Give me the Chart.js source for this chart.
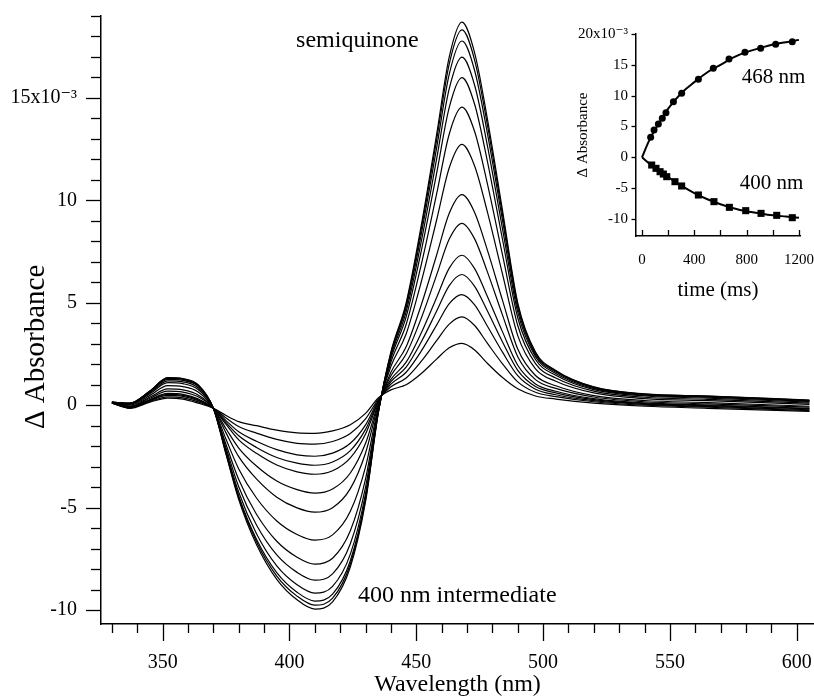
<!DOCTYPE html>
<html>
<head>
<meta charset="utf-8">
<script src="https://cdn.jsdelivr.net/npm/chart.js@4.4.1/dist/chart.umd.min.js"></script>
<style>
  html, body { margin: 0; padding: 0; background: #fff; }
  #wrap { position: relative; width: 814px; height: 696px; }
  #main { position: absolute; left: 0; top: 0; }
  #inset { position: absolute; left: 560px; top: 0; }
</style>
</head>
<body>
<div id="wrap">
  <canvas id="main" width="814" height="696"></canvas>
  <canvas id="inset" width="254" height="310"></canvas>
</div>
<script>
/* Espectros de diferença (ΔA ×10^-3), um por tempo. */
const wavelengths = [330, 337, 345, 352, 358, 364, 370, 375, 380, 387, 395, 403, 410, 417, 424, 430,
  435, 440, 446, 452, 458, 463, 468, 473, 478, 484, 490, 497, 505, 520, 540, 565, 605];

const spectrum01 = [0.10, -0.15, 0.15, 0.35, 0.30, 0.10, -0.15, -0.50, -0.80, -1.00, -1.22, -1.35, -1.37, -1.25, -0.95, -0.40, 0.35, 0.75, 1.00, 1.55, 2.25, 2.80, 3.02, 2.70, 2.05, 1.35, 0.80, 0.45, 0.30, 0.10, -0.05, -0.15, -0.30];
const spectrum02 = [0.10, -0.13, 0.18, 0.41, 0.36, 0.16, -0.15, -0.62, -1.04, -1.36, -1.67, -1.86, -1.90, -1.77, -1.38, -0.67, 0.29, 0.90, 1.33, 2.15, 3.15, 3.96, 4.31, 3.89, 3.03, 2.02, 1.14, 0.63, 0.42, 0.17, 0.00, -0.10, -0.26];
const spectrum03 = [0.11, -0.12, 0.22, 0.48, 0.43, 0.22, -0.15, -0.75, -1.30, -1.76, -2.17, -2.42, -2.49, -2.34, -1.86, -0.96, 0.24, 1.03, 1.61, 2.65, 3.91, 4.96, 5.40, 4.90, 3.87, 2.59, 1.44, 0.78, 0.51, 0.22, 0.04, -0.06, -0.22];
const spectrum04 = [0.11, -0.10, 0.25, 0.53, 0.48, 0.26, -0.15, -0.85, -1.49, -2.06, -2.55, -2.83, -2.93, -2.77, -2.22, -1.18, 0.19, 1.15, 1.86, 3.10, 4.59, 5.84, 6.38, 5.80, 4.61, 3.09, 1.70, 0.91, 0.60, 0.27, 0.08, -0.02, -0.18];
const spectrum05 = [0.11, -0.09, 0.28, 0.58, 0.53, 0.31, -0.15, -0.94, -1.69, -2.35, -2.92, -3.25, -3.37, -3.20, -2.57, -1.40, 0.14, 1.26, 2.10, 3.54, 5.25, 6.69, 7.32, 6.67, 5.32, 3.58, 1.95, 1.04, 0.68, 0.32, 0.11, 0.01, -0.15];
const spectrum06 = [0.12, -0.07, 0.34, 0.69, 0.64, 0.41, -0.15, -1.15, -2.09, -2.97, -3.70, -4.12, -4.29, -4.09, -3.31, -1.86, 0.07, 1.44, 2.50, 4.26, 6.35, 8.11, 8.88, 8.12, 6.52, 4.40, 2.37, 1.25, 0.82, 0.40, 0.17, 0.07, -0.09];
const spectrum07 = [0.12, -0.04, 0.40, 0.80, 0.75, 0.50, -0.15, -1.35, -2.51, -3.60, -4.49, -5.01, -5.22, -5.00, -4.07, -2.33, 0.00, 1.61, 2.85, 4.91, 7.32, 9.37, 10.28, 9.41, 7.58, 5.12, 2.74, 1.45, 0.95, 0.47, 0.23, 0.13, -0.05];
const spectrum08 = [0.13, 0.00, 0.48, 0.96, 0.91, 0.65, -0.15, -1.66, -3.11, -4.53, -5.65, -6.31, -6.59, -6.33, -5.18, -3.01, -0.11, 1.90, 3.48, 6.04, 9.03, 11.59, 12.73, 11.68, 9.45, 6.40, 3.40, 1.78, 1.17, 0.60, 0.32, 0.22, 0.04];
const spectrum09 = [0.14, 0.04, 0.56, 1.10, 1.05, 0.77, -0.15, -1.92, -3.63, -5.32, -6.64, -7.42, -7.76, -7.47, -6.13, -3.60, -0.20, 2.11, 3.94, 6.88, 10.30, 13.24, 14.55, 13.36, 10.83, 7.34, 3.89, 2.03, 1.33, 0.69, 0.39, 0.29, 0.10];
const spectrum10 = [0.14, 0.06, 0.61, 1.19, 1.14, 0.85, -0.15, -2.09, -3.98, -5.85, -7.31, -8.16, -8.54, -8.23, -6.76, -4.00, -0.27, 2.28, 4.31, 7.55, 11.31, 14.54, 15.99, 14.69, 11.93, 8.09, 4.27, 2.23, 1.46, 0.76, 0.45, 0.35, 0.15];
const spectrum11 = [0.15, 0.08, 0.65, 1.26, 1.21, 0.92, -0.15, -2.23, -4.25, -6.27, -7.84, -8.76, -9.17, -8.84, -7.27, -4.31, -0.32, 2.40, 4.56, 8.01, 12.01, 15.45, 16.99, 15.62, 12.70, 8.61, 4.54, 2.37, 1.55, 0.81, 0.49, 0.39, 0.19];
const spectrum12 = [0.15, 0.09, 0.68, 1.31, 1.26, 0.96, -0.15, -2.31, -4.43, -6.54, -8.17, -9.13, -9.56, -9.22, -7.59, -4.51, -0.36, 2.49, 4.76, 8.37, 12.55, 16.16, 17.78, 16.34, 13.30, 9.02, 4.75, 2.47, 1.62, 0.85, 0.52, 0.42, 0.22];
const spectrum13 = [0.15, 0.10, 0.69, 1.33, 1.28, 0.98, -0.15, -2.36, -4.52, -6.67, -8.34, -9.32, -9.76, -9.42, -7.75, -4.61, -0.38, 2.56, 4.90, 8.63, 12.94, 16.66, 18.32, 16.85, 13.71, 9.30, 4.90, 2.55, 1.67, 0.88, 0.54, 0.44, 0.24];
const spectrum14 = [0.15, 0.10, 0.70, 1.35, 1.30, 1.00, -0.15, -2.40, -4.60, -6.80, -8.50, -9.50, -9.95, -9.60, -7.90, -4.70, -0.40, 2.60, 5.00, 8.80, 13.20, 17.00, 18.70, 17.20, 14.00, 9.50, 5.00, 2.60, 1.70, 0.90, 0.55, 0.45, 0.25];

const spectra = [spectrum01, spectrum02, spectrum03, spectrum04, spectrum05, spectrum06, spectrum07,
  spectrum08, spectrum09, spectrum10, spectrum11, spectrum12, spectrum13, spectrum14];

/* Inset: cinética a 468 nm e 400 nm (ms, ΔA ×10^-3) e as curvas ajustadas. */
const time468 = [66, 92, 125, 155, 183, 240, 303, 431, 545, 665, 787, 907, 1022, 1149];
const abs468  = [3.24, 4.43, 5.40, 6.32, 7.23, 9.02, 10.38, 12.65, 14.43, 15.94, 17.03, 17.67, 18.32, 18.75];
const time400 = [74, 107, 138, 163, 189, 252, 303, 431, 550, 668, 793, 910, 1030, 1149];
const abs400  = [-1.25, -1.79, -2.33, -2.71, -3.14, -3.95, -4.65, -6.11, -7.19, -8.11, -8.65, -9.09, -9.41, -9.79];
const fitTime = [0, 50, 100, 150, 200, 300, 400, 500, 600, 700, 800, 900, 1000, 1100, 1200];
const fit468  = [0, 2.5, 4.5, 6.2, 7.9, 10.4, 12.2, 13.8, 15.0, 16.2, 17.1, 17.7, 18.3, 18.65, 19.05];
const fit400  = [0, -0.9, -1.7, -2.5, -3.2, -4.6, -5.8, -6.8, -7.6, -8.25, -8.75, -9.1, -9.4, -9.6, -9.8];

const SERIF = '"Liberation Serif", "Times New Roman", "DejaVu Serif", serif';
Chart.defaults.font.family = SERIF;
Chart.defaults.color = '#000';

const pts = (xs, ys) => xs.map((x, i) => ({ x, y: ys[i] }));

/* Tamanho fixo dos eixos, sem a folga que o Chart.js reserva para rótulos nas pontas. */
const fixX = h => s => { s.height = h; s.paddingLeft = 0; s.paddingRight = 0; };
const fixY = w => s => { s.width = w; s.paddingTop = 0; s.paddingBottom = 0; };

/* Marcas de escala desenhadas à mão: maiores/menores, para fora ou para dentro. */
const tickMarks = {
  id: 'tickMarks',
  afterDraw(chart, args, opts) {
    const { ctx, chartArea } = chart;
    ctx.save();
    ctx.strokeStyle = '#000';
    ctx.lineWidth = opts.width || 1.3;
    (opts.axes || []).forEach(a => {
      const scale = chart.scales[a.id];
      scale.ticks.forEach(t => {
        const major = Math.abs(t.value % a.major) < 1e-6;
        const len = major ? a.majorLen : a.minorLen;
        const p = Math.round(scale.getPixelForValue(t.value)) + 0.5;
        ctx.beginPath();
        if (scale.isHorizontal()) {
          const y0 = chartArea.bottom;
          ctx.moveTo(p, y0);
          ctx.lineTo(p, y0 + a.dir * len);
        } else {
          const x0 = chartArea.left;
          ctx.moveTo(x0, p);
          ctx.lineTo(x0 - a.dir * len, p);
        }
        ctx.stroke();
      });
    });
    ctx.restore();
  },
};

/* Rótulos de texto: anotações em coordenadas de dados e título vertical do eixo Y. */
const notes = {
  id: 'notes',
  afterDraw(chart, args, opts) {
    const { ctx, scales, chartArea } = chart;
    ctx.save();
    ctx.fillStyle = '#000';
    ctx.textAlign = 'left';
    ctx.textBaseline = 'middle';
    ctx.font = opts.font;
    (opts.items || []).forEach(n => {
      ctx.fillText(n.text, scales.x.getPixelForValue(n.x), scales.y.getPixelForValue(n.y));
    });
    const t = opts.yTitle;
    if (t) {
      ctx.font = t.font;
      ctx.textAlign = 'center';
      ctx.translate(chartArea.left - t.offset, scales.y.getPixelForValue(t.at));
      ctx.rotate(-Math.PI / 2);
      ctx.fillText(t.text, 0, 0);
    }
    ctx.restore();
  },
};

new Chart(document.getElementById('main'), {
  type: 'line',
  plugins: [tickMarks, notes],
  data: {
    datasets: spectra.map(s => ({
      data: pts(wavelengths, s),
      borderColor: '#000',
      borderWidth: 1.2,
      pointRadius: 0,
      fill: false,
      cubicInterpolationMode: 'monotone',
    })),
  },
  options: {
    responsive: false,
    animation: false,
    layout: { padding: { top: 16, right: 0, left: 0, bottom: 0 } },
    scales: {
      x: {
        type: 'linear',
        min: 325.7, max: 606.8,
        afterFit: fixX(72),
        grid: { display: false, drawTicks: false },
        border: { color: '#000', width: 1.5 },
        ticks: {
          stepSize: 10, includeBounds: false, autoSkip: false, maxRotation: 0,
          padding: 27, color: '#000', font: { size: 20 },
          callback: v => (v % 50 === 0 ? String(v) : ''),
        },
        title: { display: true, text: 'Wavelength (nm)', color: '#000', font: { size: 24, lineHeight: 0.9 }, padding: 0 },
      },
      y: {
        min: -10.68, max: 19.0,
        afterFit: fixY(101),
        grid: { display: false, drawTicks: false },
        border: { color: '#000', width: 1.5 },
        ticks: {
          stepSize: 1, includeBounds: false, autoSkip: false,
          padding: 24, color: '#000', font: { size: 20 },
          callback: v => (v === 15 ? '15x10\u207B\u00B3' : (v % 5 === 0 ? String(v) : '')),
        },
      },
    },
    plugins: {
      legend: { display: false },
      tooltip: { enabled: false },
      tickMarks: {
        width: 1.3,
        axes: [
          { id: 'x', major: 50, majorLen: 17, minorLen: 9, dir: 1 },
          { id: 'y', major: 5, majorLen: 15, minorLen: 10, dir: 1 },
        ],
      },
      notes: {
        font: '24px ' + SERIF,
        items: [
          { text: 'semiquinone', x: 402.6, y: 17.8 },
          { text: '400 nm intermediate', x: 427.0, y: -9.32 },
        ],
        yTitle: { text: '\u0394 Absorbance', font: '29px ' + SERIF, offset: 65, at: 2.85 },
      },
    },
  },
});

new Chart(document.getElementById('inset'), {
  type: 'line',
  plugins: [tickMarks, notes],
  data: {
    datasets: [
      { data: pts(fitTime, fit468), borderColor: '#000', borderWidth: 2, pointRadius: 0, cubicInterpolationMode: 'monotone' },
      { data: pts(fitTime, fit400), borderColor: '#000', borderWidth: 2, pointRadius: 0, cubicInterpolationMode: 'monotone' },
      { data: pts(time468, abs468), showLine: false, pointStyle: 'circle', pointRadius: 3.5, backgroundColor: '#000', borderWidth: 0 },
      { data: pts(time400, abs400), showLine: false, pointStyle: 'rect', pointRadius: 5, backgroundColor: '#000', borderWidth: 0 },
    ],
  },
  options: {
    responsive: false,
    animation: false,
    layout: { padding: { top: 34, right: 14, left: 0, bottom: 0 } },
    scales: {
      x: {
        type: 'linear',
        min: -46, max: 1208,
        afterFit: fixX(74),
        grid: { display: false, drawTicks: false },
        border: { color: '#000', width: 1.5 },
        ticks: {
          stepSize: 200, includeBounds: false, autoSkip: false, maxRotation: 0,
          padding: 15, color: '#000', font: { size: 15 },
          callback: v => (v % 400 === 0 ? String(v) : ''),
        },
        title: { display: true, text: 'time (ms)', color: '#000', font: { size: 21, lineHeight: 1 }, padding: { top: 0, bottom: 9.5 } },
      },
      y: {
        min: -12.76, max: 20,
        afterFit: fixY(76),
        grid: { display: false, drawTicks: false },
        border: { color: '#000', width: 1.5 },
        ticks: {
          stepSize: 5, includeBounds: false, autoSkip: false,
          padding: 8, color: '#000', font: { size: 15 },
          callback: v => (v === 20 ? '20x10\u207B\u00B3' : String(v)),
        },
        title: { display: true, text: '\u0394 Absorbance', color: '#000', font: { size: 15, lineHeight: 1 }, padding: { top: 15.5, bottom: 0 } },
      },
    },
    plugins: {
      legend: { display: false },
      tooltip: { enabled: false },
      tickMarks: {
        width: 1.3,
        axes: [
          { id: 'x', major: 200, majorLen: 6, minorLen: 6, dir: -1 },
          { id: 'y', major: 5, majorLen: 4.5, minorLen: 4.5, dir: 1 },
        ],
      },
      notes: {
        font: '21px ' + SERIF,
        items: [
          { text: '468 nm', x: 762, y: 13.0 },
          { text: '400 nm', x: 748, y: -4.17 },
        ],
      },
    },
  },
});
</script>
</body>
</html>
